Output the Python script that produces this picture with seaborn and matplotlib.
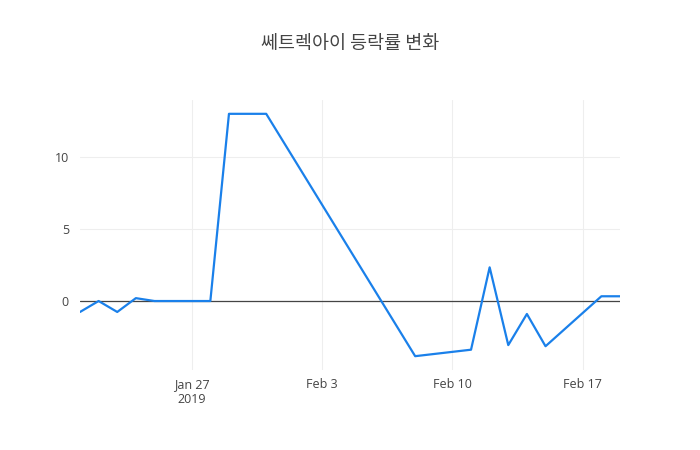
import numpy as np
import pandas as pd
import matplotlib.pyplot as plt
import matplotlib.dates as mdates
import seaborn as sns

# 쎄트렉아이 일별 등락률 (%)
dates = ['2019-01-21', '2019-01-22', '2019-01-23', '2019-01-24', '2019-01-25',
         '2019-01-28', '2019-01-29', '2019-01-30', '2019-01-31', '2019-02-08',
         '2019-02-11', '2019-02-12', '2019-02-13', '2019-02-14', '2019-02-15',
         '2019-02-18', '2019-02-19']
rates = [-0.76, 0.0, -0.76, 0.2, 0.0,
         0.0, 13.0, 13.0, 13.0, -3.83,
         -3.38, 2.34, -3.06, -0.9, -3.14,
         0.33, 0.33]
tick_dates = ['2019-01-27', '2019-02-03', '2019-02-10', '2019-02-17']
tick_labels = ['Jan 27\n2019', 'Feb 3', 'Feb 10', 'Feb 17']
title = '쎄트렉아이 등락률 변화'

df = pd.DataFrame({'date': pd.to_datetime(dates), 'rate': rates})

sns.set_style('white')
plt.rcParams['font.family'] = ['Open Sans', 'Noto Sans CJK KR', 'DejaVu Sans']

fig = plt.figure(figsize=(7, 4.5), dpi=100)
ax = fig.add_axes([80 / 700, 80 / 450, 540 / 700, 270 / 450])

ax.axhline(0, color='#444444', lw=0.9, zorder=1)
sns.lineplot(data=df, x='date', y='rate', ax=ax, color='#1a80ea', lw=1.6, zorder=3)

ax.set_xlim(df['date'].min(), df['date'].max())
ax.set_ylim(-4.79, 13.96)
ax.set_yticks([0, 5, 10])
ax.set_xticks(pd.to_datetime(tick_dates))
ax.set_xticklabels(tick_labels)
ax.grid(True, color='#eeeeee', lw=0.8)
ax.set_axisbelow(True)
for s in ax.spines.values():
    s.set_visible(False)
ax.tick_params(axis='both', length=0, colors='#444444', labelsize=9)
ax.tick_params(axis='x', pad=6)
ax.tick_params(axis='y', pad=8)
ax.set_xlabel('')
ax.set_ylabel('')

fig.text(0.5, 1 - 44 / 450, title, ha='center', va='center', fontsize=13.3,
         color='#444444', family=['Noto Sans CJK KR', 'DejaVu Sans'])

fig.savefig('out.png', dpi=100)
